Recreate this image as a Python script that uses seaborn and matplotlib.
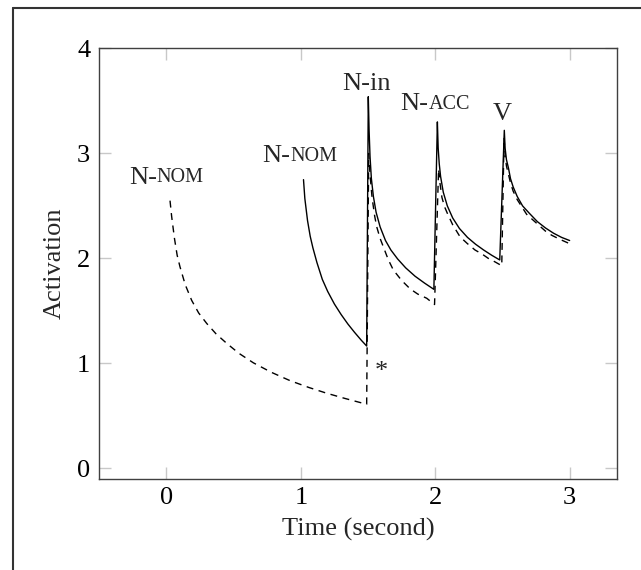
import matplotlib
matplotlib.use("Agg")
import matplotlib.pyplot as plt
from matplotlib.lines import Line2D
import seaborn as sns

# solid curve (time in seconds, activation)
solid_t = [1.02, 1.03, 1.05, 1.07, 1.09, 1.12, 1.16, 1.20, 1.25, 1.30, 1.35, 1.40, 1.45, 1.49,
           1.502, 1.508, 1.515, 1.525, 1.54, 1.56, 1.59, 1.63, 1.67, 1.72, 1.78, 1.85, 1.92, 1.99,
           2.016, 2.022, 2.03, 2.04, 2.06, 2.09, 2.13, 2.18, 2.24, 2.30, 2.36, 2.42, 2.48,
           2.514, 2.52, 2.53, 2.545, 2.56, 2.58, 2.61, 2.65, 2.70, 2.76, 2.82, 2.88, 2.94, 3.00]
solid_a = [2.75, 2.57, 2.36, 2.21, 2.10, 1.96, 1.80, 1.685, 1.565, 1.465, 1.375, 1.295, 1.22, 1.165,
           3.54, 3.22, 2.97, 2.76, 2.59, 2.44, 2.30, 2.17, 2.08, 1.995, 1.91, 1.83, 1.765, 1.705,
           3.30, 3.05, 2.90, 2.78, 2.63, 2.50, 2.385, 2.285, 2.20, 2.135, 2.08, 2.03, 1.985,
           3.22, 3.05, 2.94, 2.86, 2.76, 2.68, 2.59, 2.50, 2.43, 2.35, 2.29, 2.24, 2.20, 2.17]

# dashed curve
dashed_t = [0.027, 0.039, 0.06, 0.08, 0.101, 0.14, 0.188, 0.24, 0.30, 0.37, 0.449, 0.54, 0.647,
            0.78, 0.92, 1.06, 1.193, 1.33, 1.49,
            1.505, 1.515, 1.53, 1.55, 1.565, 1.59, 1.614, 1.65, 1.688, 1.75, 1.813, 1.87, 1.937, 1.995,
            2.025, 2.035, 2.05, 2.07, 2.09, 2.13, 2.185, 2.24, 2.296, 2.35, 2.395, 2.44, 2.495,
            2.512, 2.52, 2.53, 2.545, 2.56, 2.58, 2.61, 2.63, 2.68, 2.767, 2.82, 2.867, 2.93, 3.00]
dashed_a = [2.55, 2.40, 2.19, 2.03, 1.92, 1.75, 1.60, 1.48, 1.38, 1.28, 1.19, 1.095, 1.005,
            0.915, 0.835, 0.77, 0.715, 0.665, 0.61,
            3.00, 2.80, 2.58, 2.40, 2.30, 2.19, 2.11, 1.99, 1.89, 1.79, 1.71, 1.66, 1.62, 1.56,
            2.85, 2.72, 2.58, 2.49, 2.43, 2.32, 2.205, 2.14, 2.08, 2.04, 2.00, 1.97, 1.93,
            3.15, 2.98, 2.88, 2.80, 2.72, 2.64, 2.56, 2.52, 2.42, 2.32, 2.26, 2.22, 2.18, 2.14]

# word labels: big part + small-caps part, left x (or centre x when no small part), baseline y
word_big = ["N-", "N-", "N-in", "N-", "V"]
word_small = ["NOM", "NOM", "", "ACC", ""]
word_x = [-0.28, 0.715, 1.49, 1.743, 2.497]
word_y = [2.71, 2.915, 3.605, 3.41, 3.32]

x_ticks = [0, 1, 2, 3]
y_ticks = [0, 1, 2, 3, 4]

sns.set_theme(style="ticks")
plt.rcParams["font.family"] = ["Liberation Serif", "DejaVu Serif"]

fig = plt.figure(figsize=(6.41, 5.70), dpi=100)
ax = fig.add_axes([0.1537, 0.160, 0.8094, 0.755])

sns.lineplot(x=solid_t, y=solid_a, ax=ax, color="black", lw=1.0,
             estimator=None, sort=False)
sns.lineplot(x=dashed_t, y=dashed_a, ax=ax, color="black", lw=1.0,
             estimator=None, sort=False, linestyle=(0, (5, 4)))

ax.set_xlim(-0.505, 3.355)
ax.set_ylim(-0.1, 4.0)
ax.set_xticks(x_ticks)
ax.set_yticks(y_ticks)
ax.set_xticklabels([str(v) for v in x_ticks])
ax.set_yticklabels([str(v) for v in y_ticks])
ax.tick_params(axis="both", which="major", direction="in", length=8.5, width=1.0,
               color="#c8c8c8", labelsize=19, labelcolor="black", pad=6,
               top=True, right=True)
for sp in ax.spines.values():
    sp.set_color("#404040")
    sp.set_linewidth(1.0)

ax.set_xlabel("Time (second)", fontsize=19, labelpad=6)
ax.set_ylabel("Activation", fontsize=19, labelpad=8)

big_fs = 19
small_fs = 14.5
for big, small, x, y in zip(word_big, word_small, word_x, word_y):
    if small:
        t = ax.text(x, y, big, fontsize=big_fs, ha="left", va="baseline")
        ax.annotate(small, xy=(1, 0), xycoords=t, xytext=(0, 1.0),
                    textcoords="offset points", fontsize=small_fs,
                    ha="left", va="bottom")
    else:
        ax.text(x, y, big, fontsize=big_fs, ha="center", va="baseline")

ax.text(1.602, 0.92, "*", fontsize=19, ha="center", va="center")

# outer frame (only left and top edges are visible)
fx = 13 / 641
fy = 1 - 7.5 / 570
fig.add_artist(Line2D([fx, fx], [0, fy], color="#333333", lw=1.5))
fig.add_artist(Line2D([fx, 1], [fy, fy], color="#333333", lw=1.5))

fig.savefig("out.png", dpi=100)
